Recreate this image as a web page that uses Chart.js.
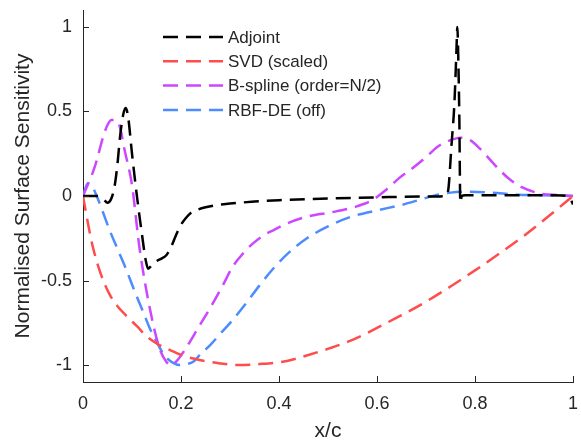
<!DOCTYPE html>
<html>
<head>
<meta charset="utf-8">
<script src="https://cdn.jsdelivr.net/npm/chart.js@4.4.1/dist/chart.umd.min.js"></script>
<style>
  html, body { margin: 0; padding: 0; background: #fff; }
  #wrap { width: 581px; height: 442px; }
</style>
</head>
<body>
<div id="wrap"><canvas id="sens" width="581" height="442"></canvas></div>
<script>
// values
const seriesNames = ["Adjoint", "SVD (scaled)", "B-spline (order=N/2)", "RBF-DE (off)"];
const seriesColors = ["#000000", "#ff4d4d", "#cc47ff", "#4d8cff"];

const adjointX = [0, 0.03, 0.042, 0.05, 0.057, 0.064, 0.07, 0.076, 0.082, 0.087, 0.092, 0.1, 0.11, 0.12, 0.128, 0.133,
  0.14, 0.15, 0.16, 0.17, 0.18, 0.19, 0.2, 0.21, 0.22, 0.235, 0.25, 0.27, 0.3, 0.35, 0.4, 0.5, 0.6, 0.7, 0.74,
  0.746, 0.752, 0.758, 0.762, 0.764, 0.766, 0.768, 0.77, 0.773, 0.78, 0.9, 0.98, 0.995, 1];
const adjointY = [0, 0, -0.02, -0.04, -0.02, 0.05, 0.18, 0.36, 0.48, 0.52, 0.47, 0.25, 0, -0.22, -0.38, -0.43,
  -0.41, -0.385, -0.37, -0.35, -0.3, -0.23, -0.17, -0.13, -0.1, -0.08, -0.067, -0.055, -0.045, -0.033, -0.025, -0.015, -0.008, -0.003, 0,
  0.05, 0.3, 0.55, 0.85, 1.0, 0.8, 0.47, -0.04, 0, 0.005, 0.005, 0.003, -0.02, -0.05];

const svdX = [0, 0.01, 0.02, 0.035, 0.054, 0.07, 0.089, 0.11, 0.13, 0.155, 0.177, 0.2, 0.238, 0.28, 0.32, 0.355,
  0.416, 0.46, 0.504, 0.545, 0.58, 0.6, 0.65, 0.7, 0.75, 0.8, 0.85, 0.9, 0.95, 1];
const svdY = [0, -0.16, -0.3, -0.45, -0.58, -0.65, -0.71, -0.77, -0.83, -0.88, -0.91, -0.94, -0.97, -0.99, -1.0, -0.995,
  -0.976, -0.94, -0.9, -0.857, -0.81, -0.78, -0.705, -0.625, -0.535, -0.44, -0.34, -0.235, -0.12, 0];

const bsplineX = [0, 0.02, 0.028, 0.04, 0.05, 0.058, 0.065, 0.075, 0.085, 0.1, 0.115, 0.136, 0.156, 0.17, 0.18, 0.19,
  0.21, 0.235, 0.26, 0.285, 0.305, 0.325, 0.347, 0.37, 0.39, 0.41, 0.46, 0.51, 0.56, 0.59, 0.62, 0.647, 0.675, 0.7, 0.723,
  0.75, 0.77, 0.79, 0.81, 0.845, 0.87, 0.893, 0.933, 0.97, 1];
const bsplineY = [0, 0.14, 0.21, 0.34, 0.42, 0.45, 0.45, 0.41, 0.27, 0.065, -0.3, -0.66, -0.9, -0.98, -1.0, -0.98,
  -0.9, -0.78, -0.66, -0.53, -0.42, -0.345, -0.28, -0.23, -0.2, -0.17, -0.12, -0.095, -0.06, -0.025, 0.04, 0.11, 0.17, 0.23, 0.29,
  0.33, 0.345, 0.33, 0.28, 0.17, 0.1, 0.055, 0.015, 0.005, 0];

const rbfX = [0, 0.01, 0.02, 0.028, 0.04, 0.054, 0.07, 0.089, 0.105, 0.122, 0.136, 0.15, 0.16, 0.17, 0.183, 0.197,
  0.21, 0.225, 0.24, 0.26, 0.28, 0.305, 0.33, 0.36, 0.388, 0.42, 0.457, 0.5, 0.545, 0.6, 0.647, 0.69, 0.72, 0.75,
  0.78, 0.83, 0.886, 0.94, 1];
const rbfY = [0, 0.075, 0.05, 0, -0.09, -0.2, -0.31, -0.44, -0.56, -0.68, -0.78, -0.86, -0.915, -0.955, -0.985, -1.0,
  -0.995, -0.98, -0.935, -0.88, -0.815, -0.735, -0.645, -0.53, -0.43, -0.335, -0.25, -0.18, -0.125, -0.085, -0.055, -0.02, 0.005, 0.02,
  0.025, 0.02, 0.008, 0.005, 0];

const xTicks = [0, 0.2, 0.4, 0.6, 0.8, 1];
const yTicks = [-1, -0.5, 0, 0.5, 1];

const textColor = "#262626";
const fontFamily = "'Liberation Sans', Arial, Helvetica, sans-serif";

function toPoints(xs, ys) {
  return xs.map((x, i) => ({ x: x, y: ys[i] }));
}

const allX = [adjointX, svdX, bsplineX, rbfX];
const allY = [adjointY, svdY, bsplineY, rbfY];

const datasets = seriesNames.map((name, i) => ({
  label: name,
  data: toPoints(allX[i], allY[i]),
  borderColor: seriesColors[i],
  backgroundColor: seriesColors[i],
  borderWidth: 2.5,
  borderDash: [15, 8],
  pointRadius: 0,
  showLine: true,
  fill: false,
  order: i,
  cubicInterpolationMode: 'monotone'
}));

// no extra room for end tick labels, the plot box is fixed
function noScalePadding(scale) {
  scale.paddingTop = 0;
  scale.paddingBottom = 0;
  scale.paddingLeft = 0;
  scale.paddingRight = 0;
}

// inward tick marks (the original has no outward ticks)
const innerTicks = {
  id: 'innerTicks',
  afterDatasetsDraw(chart) {
    const { ctx, chartArea, scales } = chart;
    ctx.save();
    ctx.strokeStyle = textColor;
    ctx.lineWidth = 1;
    ctx.beginPath();
    xTicks.forEach(v => {
      const px = Math.round(scales.x.getPixelForValue(v)) + 0.5;
      ctx.moveTo(px, chartArea.bottom);
      ctx.lineTo(px, chartArea.bottom - 6);
    });
    yTicks.forEach(v => {
      const py = Math.round(scales.y.getPixelForValue(v)) + 0.5;
      ctx.moveTo(chartArea.left, py);
      ctx.lineTo(chartArea.left + 6, py);
    });
    ctx.stroke();
    ctx.restore();
  }
};

// legend inside the axes, top-left, no box
const innerLegend = {
  id: 'innerLegend',
  afterDraw(chart) {
    const { ctx, chartArea } = chart;
    const x0 = chartArea.left + 80;
    const y0 = chartArea.top + 27;
    const rowH = 24.3;
    ctx.save();
    ctx.font = "17px " + fontFamily;
    ctx.textBaseline = 'middle';
    ctx.textAlign = 'left';
    chart.data.datasets.forEach((ds, i) => {
      const y = y0 + i * rowH;
      ctx.strokeStyle = ds.borderColor;
      ctx.lineWidth = 2.5;
      ctx.setLineDash([15, 8]);
      ctx.beginPath();
      ctx.moveTo(x0, y);
      ctx.lineTo(x0 + 60, y);
      ctx.stroke();
      ctx.setLineDash([]);
      ctx.fillStyle = textColor;
      ctx.fillText(ds.label, x0 + 65, y + 1);
    });
    ctx.restore();
  }
};

chart = new Chart(document.getElementById('sens').getContext('2d'), {
  type: 'scatter',
  data: { datasets: datasets },
  options: {
    responsive: false,
    animation: false,
    layout: { padding: { top: 10, right: 8, left: 0, bottom: 0 } },
    plugins: {
      legend: { display: false },
      tooltip: { enabled: false }
    },
    scales: {
      x: {
        type: 'linear',
        min: 0,
        max: 1,
        afterFit(scale) { scale.height = 60; noScalePadding(scale); },
        afterBuildTicks(scale) { scale.ticks = xTicks.map(v => ({ value: v })); },
        grid: { display: false, drawTicks: false },
        border: { display: true, color: textColor, width: 1 },
        ticks: {
          padding: 11,
          color: textColor,
          font: { family: fontFamily, size: 18 },
          maxRotation: 0,
          callback: v => String(v)
        },
        title: {
          display: true,
          text: 'x/c',
          color: textColor,
          font: { family: fontFamily, size: 21, lineHeight: 1 },
          padding: { top: 0, bottom: 0 }
        }
      },
      y: {
        type: 'linear',
        min: -1.1,
        max: 1.1,
        afterFit(scale) { scale.width = 83; noScalePadding(scale); },
        afterBuildTicks(scale) { scale.ticks = yTicks.map(v => ({ value: v })); },
        grid: { display: false, drawTicks: false },
        border: { display: true, color: textColor, width: 1 },
        ticks: {
          padding: 11,
          color: textColor,
          font: { family: fontFamily, size: 18 },
          callback: v => String(v)
        },
        title: {
          display: true,
          text: 'Normalised Surface Sensitivity',
          color: textColor,
          font: { family: fontFamily, size: 21, lineHeight: 1.2 },
          padding: { top: 11, bottom: 0 }
        }
      }
    }
  },
  plugins: [innerTicks, innerLegend]
});
</script>
</body>
</html>
